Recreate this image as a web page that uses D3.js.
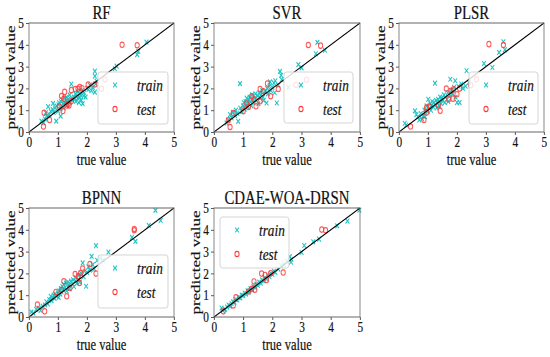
<!DOCTYPE html>
<html><head><meta charset="utf-8">
<script src="https://cdn.jsdelivr.net/npm/d3@7"></script>
<style>body{margin:0;background:#fff}svg{display:block}</style>
</head><body><svg id="c" width="550" height="357"></svg>
<script>
const models = ["RF","SVR","PLSR","BPNN","CDAE-WOA-DRSN"];
const tickValues = [0,1,2,3,4,5];
const legendLabels = ["train","test"];
const xLabel = "true value";
const yLabel = "predicted value";

const rfTrain = [[0.43,0.50],[0.50,0.42],[0.55,0.60],[0.58,0.88],[0.62,0.75],[0.66,1.16],[0.70,0.80],[0.75,0.95],[0.81,1.04],[0.83,1.31],[0.85,0.90],[0.90,1.10],[0.94,0.50],[0.95,1.20],[1.00,0.96],[1.02,1.25],[1.04,1.34],[1.08,1.05],[1.09,0.73],[1.10,1.40],[1.13,1.20],[1.15,1.49],[1.18,1.30],[1.20,1.10],[1.22,1.55],[1.25,1.35],[1.28,1.45],[1.30,1.60],[1.32,1.25],[1.35,1.50],[1.38,1.40],[1.40,1.70],[1.42,1.35],[1.46,2.20],[1.48,1.55],[1.50,1.45],[1.55,1.60],[1.58,1.50],[1.60,1.75],[1.62,1.40],[1.65,1.65],[1.68,1.55],[1.70,1.85],[1.72,1.35],[1.75,1.60],[1.78,1.70],[1.80,1.45],[1.82,1.90],[1.85,1.30],[1.88,1.65],[1.90,1.80],[1.95,1.60],[2.00,2.00],[2.05,1.95],[2.10,2.15],[2.15,1.90],[2.20,2.05],[2.27,2.79],[2.27,2.56],[2.27,1.83],[2.30,2.20],[2.33,2.33],[2.96,2.90],[3.02,3.02],[3.73,3.55],[3.77,3.70],[4.05,4.12]];
const rfTest = [[0.50,0.25],[0.52,0.88],[0.71,0.55],[1.04,1.16],[1.12,1.65],[1.17,0.96],[1.20,1.52],[1.23,1.84],[1.30,1.22],[1.35,1.28],[1.38,1.22],[1.46,1.42],[1.46,1.92],[1.60,1.97],[1.69,1.98],[1.75,2.06],[1.83,2.01],[2.04,2.18],[2.27,2.18],[2.50,1.98],[2.62,2.41],[3.21,4.00],[3.73,3.98]];

const svrTrain = [[0.43,0.41],[0.48,0.55],[0.55,0.80],[0.60,0.65],[0.65,0.90],[0.72,0.75],[0.75,1.00],[0.80,0.85],[0.83,0.49],[0.89,2.22],[0.90,1.10],[0.95,0.95],[1.00,1.20],[1.02,1.35],[1.05,1.05],[1.08,1.40],[1.10,1.25],[1.12,1.55],[1.15,1.15],[1.18,1.45],[1.20,1.30],[1.22,1.60],[1.25,1.40],[1.28,1.20],[1.30,1.70],[1.33,1.50],[1.35,1.35],[1.40,1.55],[1.42,1.75],[1.45,1.45],[1.50,1.65],[1.52,1.30],[1.55,1.80],[1.58,1.55],[1.60,1.70],[1.65,1.90],[1.68,1.60],[1.70,1.45],[1.75,1.85],[1.80,1.33],[1.82,2.00],[1.85,1.75],[1.90,2.10],[1.92,2.30],[1.95,1.90],[2.00,2.05],[2.05,2.25],[2.08,1.80],[2.10,2.35],[2.15,1.33],[2.20,2.15],[2.26,2.78],[2.30,2.60],[2.32,2.40],[2.55,2.05],[2.89,3.09],[2.95,2.10],[3.00,2.94],[3.49,3.59],[3.54,4.11],[3.80,3.75]];
const svrTest = [[0.49,0.54],[0.55,0.23],[0.66,0.87],[1.00,0.95],[1.12,1.30],[1.18,1.15],[1.29,1.64],[1.37,1.50],[1.44,1.18],[1.58,1.41],[1.58,1.97],[1.69,1.87],[1.83,2.22],[1.94,1.64],[2.20,1.97],[2.81,2.17],[3.17,2.40],[3.23,3.99],[3.65,3.96]];

const plsrTrain = [[0.20,0.40],[0.25,0.32],[0.55,0.97],[0.60,0.80],[0.65,0.70],[0.70,0.55],[0.75,0.85],[0.80,0.60],[0.85,0.75],[0.88,1.00],[0.90,0.70],[0.95,1.20],[1.00,0.95],[1.01,1.50],[1.05,1.10],[1.08,1.30],[1.10,1.00],[1.12,1.20],[1.15,1.40],[1.18,1.15],[1.20,1.35],[1.24,2.24],[1.25,1.25],[1.28,1.45],[1.30,1.10],[1.32,1.35],[1.35,1.50],[1.38,1.20],[1.40,1.40],[1.42,1.60],[1.45,1.30],[1.48,1.55],[1.50,1.45],[1.55,1.70],[1.58,1.35],[1.60,1.60],[1.65,1.50],[1.68,1.80],[1.70,1.40],[1.75,1.65],[1.77,2.42],[1.80,1.90],[1.85,1.75],[1.90,2.05],[1.94,2.35],[1.95,1.60],[2.00,1.35],[2.05,2.10],[2.09,1.35],[2.15,2.20],[2.20,2.00],[2.30,2.10],[2.33,2.81],[2.41,2.27],[2.93,3.14],[3.02,2.19],[3.22,2.96],[3.45,3.65],[3.60,4.14],[3.65,3.77]];
const plsrTest = [[0.40,0.25],[0.86,0.55],[0.95,1.12],[0.95,0.89],[1.05,1.17],[1.36,1.23],[1.42,0.97],[1.63,1.99],[1.71,1.50],[1.79,1.89],[1.86,1.53],[1.88,1.96],[2.00,1.73],[2.09,1.99],[2.47,2.15],[2.67,2.42],[3.10,4.03],[3.60,3.99]];

const bpnnTrain = [[0.08,0.23],[0.15,0.18],[0.25,0.35],[0.35,0.40],[0.40,0.30],[0.47,0.50],[0.55,0.55],[0.60,0.70],[0.65,0.60],[0.70,0.80],[0.75,0.95],[0.78,0.75],[0.82,0.90],[0.85,1.00],[0.88,0.85],[0.90,1.05],[0.95,0.95],[1.00,1.10],[1.02,0.90],[1.05,1.20],[1.08,1.05],[1.10,1.30],[1.12,1.15],[1.15,1.40],[1.18,1.25],[1.20,1.50],[1.25,1.35],[1.28,1.55],[1.30,1.20],[1.35,1.60],[1.38,1.45],[1.40,1.30],[1.45,1.65],[1.50,1.50],[1.52,1.70],[1.55,1.40],[1.60,1.65],[1.62,1.80],[1.65,1.55],[1.70,1.90],[1.72,1.70],[1.75,1.60],[1.80,2.00],[1.85,2.48],[1.88,1.85],[1.92,2.10],[1.97,1.41],[2.00,2.05],[2.05,2.30],[2.10,2.15],[2.16,2.78],[2.20,2.40],[2.25,2.20],[2.31,3.27],[2.35,2.60],[2.45,2.70],[2.55,2.60],[2.74,2.98],[2.97,2.17],[3.55,3.65],[3.67,3.47],[4.13,4.20],[4.36,4.89],[4.54,4.43]];
const bpnnTest = [[0.29,0.57],[0.54,0.26],[0.93,1.15],[1.12,1.25],[1.20,1.64],[1.30,0.95],[1.41,1.33],[1.59,1.97],[1.70,1.87],[1.74,1.56],[1.78,2.02],[1.85,2.22],[2.10,2.43],[2.31,1.99],[3.63,4.04],[3.63,3.98]];

const cdaeTrain = [[0.26,0.41],[0.30,0.30],[0.38,0.35],[0.45,0.45],[0.50,0.55],[0.55,0.50],[0.60,0.62],[0.65,0.70],[0.70,0.68],[0.75,0.80],[0.80,0.78],[0.85,0.90],[0.90,0.88],[0.95,1.00],[1.00,0.98],[1.05,1.10],[1.10,1.05],[1.15,1.20],[1.20,1.15],[1.25,1.30],[1.30,1.25],[1.35,1.40],[1.40,1.35],[1.45,1.50],[1.50,1.45],[1.55,1.60],[1.60,1.55],[1.65,1.70],[1.70,1.65],[1.75,1.80],[1.80,1.75],[1.85,1.90],[1.90,1.85],[1.95,2.00],[2.00,1.95],[2.05,2.10],[2.10,2.05],[2.20,2.20],[2.30,2.35],[2.40,2.40],[2.50,2.55],[2.60,2.77],[2.64,2.51],[2.65,2.65],[3.00,2.96],[3.09,3.28],[3.40,3.45],[3.60,3.57],[4.22,4.18],[4.57,4.40],[4.98,4.90]];
const cdaeTest = [[0.32,0.26],[0.66,0.53],[0.75,0.90],[1.18,1.17],[1.29,1.29],[1.37,1.63],[1.40,1.25],[1.63,1.99],[1.75,1.93],[1.80,1.70],[1.94,2.01],[2.37,2.04],[3.69,4.01],[3.82,3.98]];

// layout (real pixels); whole figure horizontally compressed like the reference
const SX = 0.78;
const FONT = "'Liberation Serif','Times New Roman',serif";
const TRAIN_COLOR = "#1cc4c4";
const TEST_COLOR = "#ff3a3a";
const TEXT_COLOR = "#111";

const panels = [
  {name: models[0], train: rfTrain,   test: rfTest,   box: [29,174,23,132],  leg: [98,72,70,52]},
  {name: models[1], train: svrTrain,  test: svrTest,  box: [214,360,23,132], leg: [284,72,69,51]},
  {name: models[2], train: plsrTrain, test: plsrTest, box: [399,544,23,132], leg: [469,72,69,52]},
  {name: models[3], train: bpnnTrain, test: bpnnTest, box: [29,174,208,317], leg: [98,255,70,53]},
  {name: models[4], train: cdaeTrain, test: cdaeTest, box: [214,360,208,317],leg: [220,217,69,51]}
];

const svg = d3.select("#c");
svg.append("rect").attr("width",550).attr("height",357).attr("fill","#fff");
const root = svg.append("g").attr("transform", `scale(${SX},1)`);

const xMark = s => `M${-s},${-s}L${s},${s}M${-s},${s}L${s},${-s}`;
const styleText = sel => sel.attr("font-family", FONT).attr("fill", TEXT_COLOR)
  .attr("stroke", TEXT_COLOR).attr("stroke-width", 0.2);

panels.forEach(p => {
  const [l, r, t, b] = p.box;
  const x = d3.scaleLinear().domain([0,5]).range([l/SX, r/SX]);
  const y = d3.scaleLinear().domain([0,5]).range([b, t]);
  const g = root.append("g");

  // axes
  const ax = g.append("g").attr("transform", `translate(0,${b})`)
    .call(d3.axisBottom(x).tickValues(tickValues).tickSize(3).tickPadding(2).tickFormat(d3.format("d")));
  const ay = g.append("g").attr("transform", `translate(${l/SX},0)`)
    .call(d3.axisLeft(y).tickValues(tickValues).tickSize(3/SX).tickPadding(2/SX).tickFormat(d3.format("d")));
  [ax, ay].forEach(a => {
    a.select(".domain").remove();
    a.selectAll("line").attr("stroke", "#444");
    a.selectAll("text").call(styleText).attr("font-size", 14.5);
  });

  // train markers
  g.append("g").selectAll("path").data(p.train).join("path")
    .attr("transform", d => `translate(${x(d[0])},${y(d[1])})`)
    .attr("d", xMark(2.4)).attr("stroke", TRAIN_COLOR).attr("stroke-width", 1.25).attr("fill", "none");
  // test markers
  g.append("g").selectAll("circle").data(p.test).join("circle")
    .attr("cx", d => x(d[0])).attr("cy", d => y(d[1])).attr("r", 2.7)
    .attr("fill", "none").attr("stroke", TEST_COLOR).attr("stroke-width", 1.2).attr("opacity", 0.85);

  // diagonal reference line
  g.append("line").attr("x1", x(0)).attr("y1", y(0)).attr("x2", x(5)).attr("y2", y(5))
    .attr("stroke", "#000").attr("stroke-width", 1.2);

  // frame
  g.append("rect").attr("x", l/SX).attr("y", t).attr("width", (r-l)/SX).attr("height", b-t)
    .attr("fill", "none").attr("stroke", "#666").attr("stroke-width", 1);

  // legend
  const [lx, ly, lw, lh] = p.leg;
  const lg = g.append("g");
  lg.append("rect").attr("x", lx/SX).attr("y", ly).attr("width", lw/SX).attr("height", lh)
    .attr("rx", 3).attr("fill", "#fff").attr("fill-opacity", 0.82).attr("stroke", "#d0d0d0").attr("stroke-width", 1);
  const rows = [ly + 13, ly + 37];
  lg.append("path").attr("transform", `translate(${(lx+17)/SX},${rows[0]})`).attr("d", xMark(2.4))
    .attr("stroke", TRAIN_COLOR).attr("stroke-width", 1.25).attr("fill", "none");
  lg.append("circle").attr("cx", (lx+17)/SX).attr("cy", rows[1]).attr("r", 2.7)
    .attr("fill", "none").attr("stroke", TEST_COLOR).attr("stroke-width", 1.2);
  legendLabels.forEach((txt, i) => {
    lg.append("text").attr("x", (lx+39)/SX).attr("y", rows[i]).attr("dy", "0.35em")
      .call(styleText).attr("font-style", "italic").attr("font-size", 17).text(txt);
  });

  // title
  g.append("text").attr("x", (l+r)/2/SX).attr("y", t - 4).attr("text-anchor", "middle")
    .call(styleText).attr("font-size", 19).text(p.name);
  // axis labels
  g.append("text").attr("x", (l+r)/2/SX).attr("y", b + 33).attr("text-anchor", "middle")
    .call(styleText).attr("font-size", 16).text(xLabel);
  g.append("text").attr("transform", `translate(${(l-14)/SX},${(t+b)/2}) rotate(-90)`).attr("text-anchor", "middle")
    .call(styleText).attr("font-size", 17).text(yLabel);
});
</script>
</body></html>
